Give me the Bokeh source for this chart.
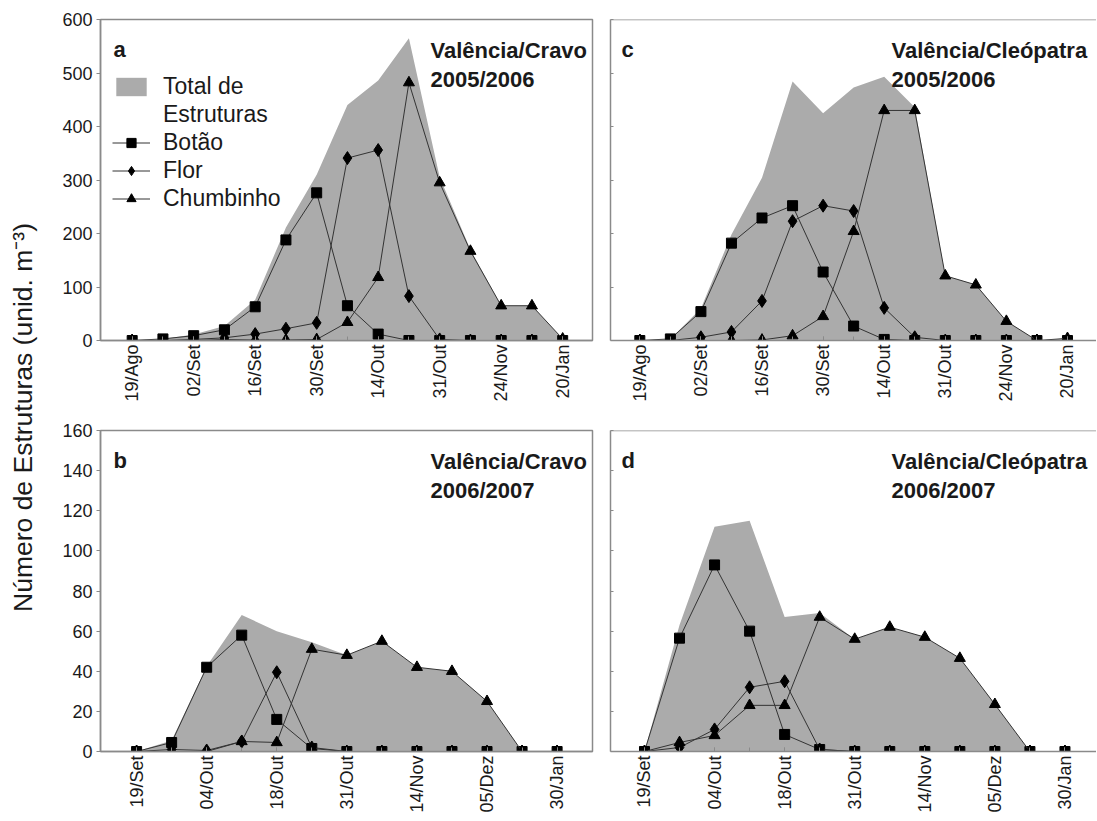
import math
from bokeh.plotting import figure
from bokeh.models import Range1d, FixedTicker, Label, Legend, LegendItem, Span
from bokeh.layouts import row, column
from bokeh.embed import file_html
from bokeh.resources import INLINE

# ---------------- data ----------------
labels_0506 = ["19/Ago", "02/Set", "16/Set", "30/Set", "14/Out", "31/Out", "24/Nov", "20/Jan"]
labels_0607 = ["19/Set", "04/Out", "18/Out", "31/Out", "14/Nov", "05/Dez", "30/Jan"]

# (a) Valência/Cravo 2005/2006
a_total = [0, 3, 11, 27, 76, 211, 310, 440, 486, 565, 305, 170, 65, 65, 3]
a_botao = [0, 3, 9, 20, 63, 188, 276, 65, 12, 0, 0, 0, 0, 0, 0]
a_flor = [0, 0, 2, 5, 12, 22, 33, 341, 356, 83, 2, 0, 0, 0, 0]
a_chumb = [0, 0, 0, 2, 1, 1, 2, 34, 118, 482, 295, 167, 65, 65, 3]

# (c) Valência/Cleópatra 2005/2006
c_total = [0, 3, 60, 198, 304, 484, 425, 473, 493, 436, 121, 104, 36, 0, 4]
c_botao = [0, 3, 54, 182, 229, 252, 128, 27, 2, 0, 0, 0, 0, 0, 0]
c_flor = [0, 0, 6, 16, 74, 223, 252, 242, 61, 6, 0, 0, 0, 0, 0]
c_chumb = [0, 0, 0, 0, 1, 9, 45, 204, 430, 430, 121, 104, 36, 0, 4]

# (b) Valência/Cravo 2006/2007
b_total = [0, 5.5, 42.5, 68, 60, 54.5, 48, 55, 42, 40, 25, 0, 0]
b_botao = [0, 4.5, 42, 58, 16, 1.5, 0, 0, 0, 0, 0, 0, 0]
b_flor = [0, 1, 0.5, 5, 39.5, 2, 0, 0, 0, 0, 0, 0, 0]
b_chumb = [0, 0, 0, 5, 4.5, 51, 48, 55, 42, 40, 25, 0, 0]

# (d) Valência/Cleópatra 2006/2007
d_total = [0, 63, 112, 115, 67, 69, 56, 62, 57, 46.5, 23.5, 0, 0]
d_botao = [0, 56.5, 93, 60, 8.5, 1, 0, 0, 0, 0, 0, 0, 0]
d_flor = [0, 2, 11, 32, 35, 1, 0, 0, 0, 0, 0, 0, 0]
d_chumb = [0, 4.5, 8, 23, 23, 67, 56, 62, 57, 46.5, 23.5, 0, 0]

y_label = "Número de Estruturas (unid. m⁻³)"

# ---------------- style ----------------
FONT = "Liberation Sans"
AREA = "#ababab"
LINE = "#333333"
FRAME = "#8a8a8a"
TXT = "#1a1a1a"


def px_to_data(rng, frame_px, offset_px):
    return rng[0] + offset_px / frame_px * (rng[1] - rng[0])


def make_panel(total, botao, flor, chumb, tick_labels, xr, y_max, y_step,
               show_ylabels, width, height, mb, letter, title1, title2,
               letter_dx, title_dx, title_size, closed, legend=False):
    fw = width - mb[0] - mb[1]
    fh = height - mb[2] - mb[3]
    p = figure(width=width, height=height, x_range=Range1d(*xr),
               y_range=Range1d(0, y_max), output_backend="svg",
               toolbar_location=None, min_border_left=mb[0],
               min_border_right=mb[1], min_border_top=mb[2],
               min_border_bottom=mb[3])
    p.xgrid.visible = False
    p.ygrid.visible = False
    p.background_fill_color = "white"
    p.border_fill_color = "white"
    if closed:
        p.outline_line_color = FRAME
        p.outline_line_width = 1.5
    else:
        p.outline_line_color = None
        p.add_layout(Span(location=y_max, dimension="width",
                          line_color=FRAME, line_width=1.5))

    n = len(total)
    xs = list(range(n))
    area = p.varea(x=xs, y1=[0] * n, y2=total, fill_color=AREA)
    lb = p.line(xs, botao, line_color=LINE, line_width=1)
    sb = p.scatter(xs, botao, marker="square", size=10, color="black")
    lf = p.line(xs, flor, line_color=LINE, line_width=1)
    sf = p.scatter(xs, flor, marker="diamond", size=13, color="black")
    lc = p.line(xs, chumb, line_color=LINE, line_width=1)
    sc = p.scatter(xs, chumb, marker="triangle", size=11, color="black")

    xa = p.xaxis[0]
    xa.ticker = FixedTicker(ticks=xs[::2], minor_ticks=xs)
    xa.major_label_overrides = {i: tick_labels[i // 2] for i in xs[::2]}
    xa.major_label_orientation = math.pi / 2
    xa.major_tick_in = 4
    xa.major_tick_out = 0
    xa.minor_tick_in = 4
    xa.minor_tick_out = 0
    xa.minor_tick_line_color = FRAME
    xa.axis_line_color = FRAME
    xa.axis_line_width = 1.5
    xa.major_tick_line_color = FRAME
    xa.major_label_text_font = FONT
    xa.major_label_text_font_size = "18px"
    xa.major_label_text_color = TXT
    xa.major_label_standoff = 4

    ya = p.yaxis[0]
    yt = list(range(0, y_max + 1, y_step))
    ya.axis_line_color = FRAME
    ya.axis_line_width = 1.5
    ya.major_tick_line_color = FRAME
    if show_ylabels:
        ya.ticker = FixedTicker(ticks=yt, minor_ticks=[])
        ya.major_tick_out = 4
        ya.major_tick_in = 0
        ya.minor_tick_line_color = None
        ya.major_label_text_font = FONT
        ya.major_label_text_font_size = "18px"
        ya.major_label_text_color = TXT
        ya.major_label_standoff = 4
    else:
        ya.ticker = FixedTicker(ticks=[], minor_ticks=yt)
        ya.minor_tick_in = 3
        ya.minor_tick_out = 0
        ya.minor_tick_line_color = FRAME
        ya.major_label_standoff = 0

    def y_at(px_below_top):
        return y_max - px_below_top / fh * y_max

    p.add_layout(Label(x=px_to_data(xr, fw, letter_dx), y=y_at(30), text=letter,
                       text_font=FONT, text_font_size="22px",
                       text_font_style="bold", text_color=TXT,
                       text_baseline="alphabetic"))
    for txt, dy in ((title1, 31), (title2, 60)):
        p.add_layout(Label(x=px_to_data(xr, fw, title_dx), y=y_at(dy), text=txt,
                           text_font=FONT, text_font_size=title_size,
                           text_font_style="bold", text_color=TXT,
                           text_baseline="alphabetic"))

    if legend:
        dummy = p.line(x=[], y=[], line_alpha=0)
        leg = Legend(items=[
            LegendItem(label="Total de", renderers=[area]),
            LegendItem(label="Estruturas", renderers=[dummy]),
            LegendItem(label="Botão", renderers=[lb, sb]),
            LegendItem(label="Flor", renderers=[lf, sf]),
            LegendItem(label="Chumbinho", renderers=[lc, sc]),
        ], location=(12, 128))
        leg.label_text_font = FONT
        leg.label_text_font_size = "23px"
        leg.label_text_color = TXT
        leg.glyph_width = 38
        leg.glyph_height = 23
        leg.label_height = 28
        leg.label_standoff = 13
        leg.spacing = 0
        leg.padding = 0
        leg.margin = 0
        leg.background_fill_alpha = 0
        leg.border_line_color = None
        p.add_layout(leg)
    return p


# borders: left, right, top, bottom
pa = make_panel(a_total, a_botao, a_flor, a_chumb, labels_0506, (-1.03, 14.97),
                600, 100, True, 544, 410, (44, 8, 19, 70), "a",
                "Valência/Cravo", "2005/2006", 13, 330, "22px", True, legend=True)
pb = make_panel(b_total, b_botao, b_flor, b_chumb, labels_0607, (-1.03, 13.01),
                160, 20, True, 544, 410, (44, 8, 20, 69), "b",
                "Valência/Cravo", "2006/2007", 13, 330, "22px", True)
pc = make_panel(c_total, c_botao, c_flor, c_chumb, labels_0506, (-0.96, 14.95),
                600, 100, False, 496, 410, (10, 0, 19, 70), "c",
                "Valência/Cleópatra", "2005/2006", 11, 281, "22px", False)
pd = make_panel(d_total, d_botao, d_flor, d_chumb, labels_0607, (-0.97, 12.90),
                160, 20, False, 496, 410, (10, 0, 20, 69), "d",
                "Valência/Cleópatra", "2006/2007", 11, 281, "22px", False)

# shared y-axis title
H = 820
py = figure(width=56, height=H, x_range=Range1d(0, 56), y_range=Range1d(0, H),
            output_backend="svg", toolbar_location=None, min_border=0,
            x_axis_location=None, y_axis_location=None)
py.outline_line_color = None
py.xgrid.visible = False
py.ygrid.visible = False
py.add_layout(Label(x=22, y=H - 417, text=y_label, angle=math.pi / 2,
                    text_font=FONT, text_font_size="26.5px", text_color=TXT,
                    text_align="center", text_baseline="alphabetic"))

layout = row(py, column(pa, pb), column(pc, pd))

open("out.html", "w").write(file_html(layout, INLINE))
